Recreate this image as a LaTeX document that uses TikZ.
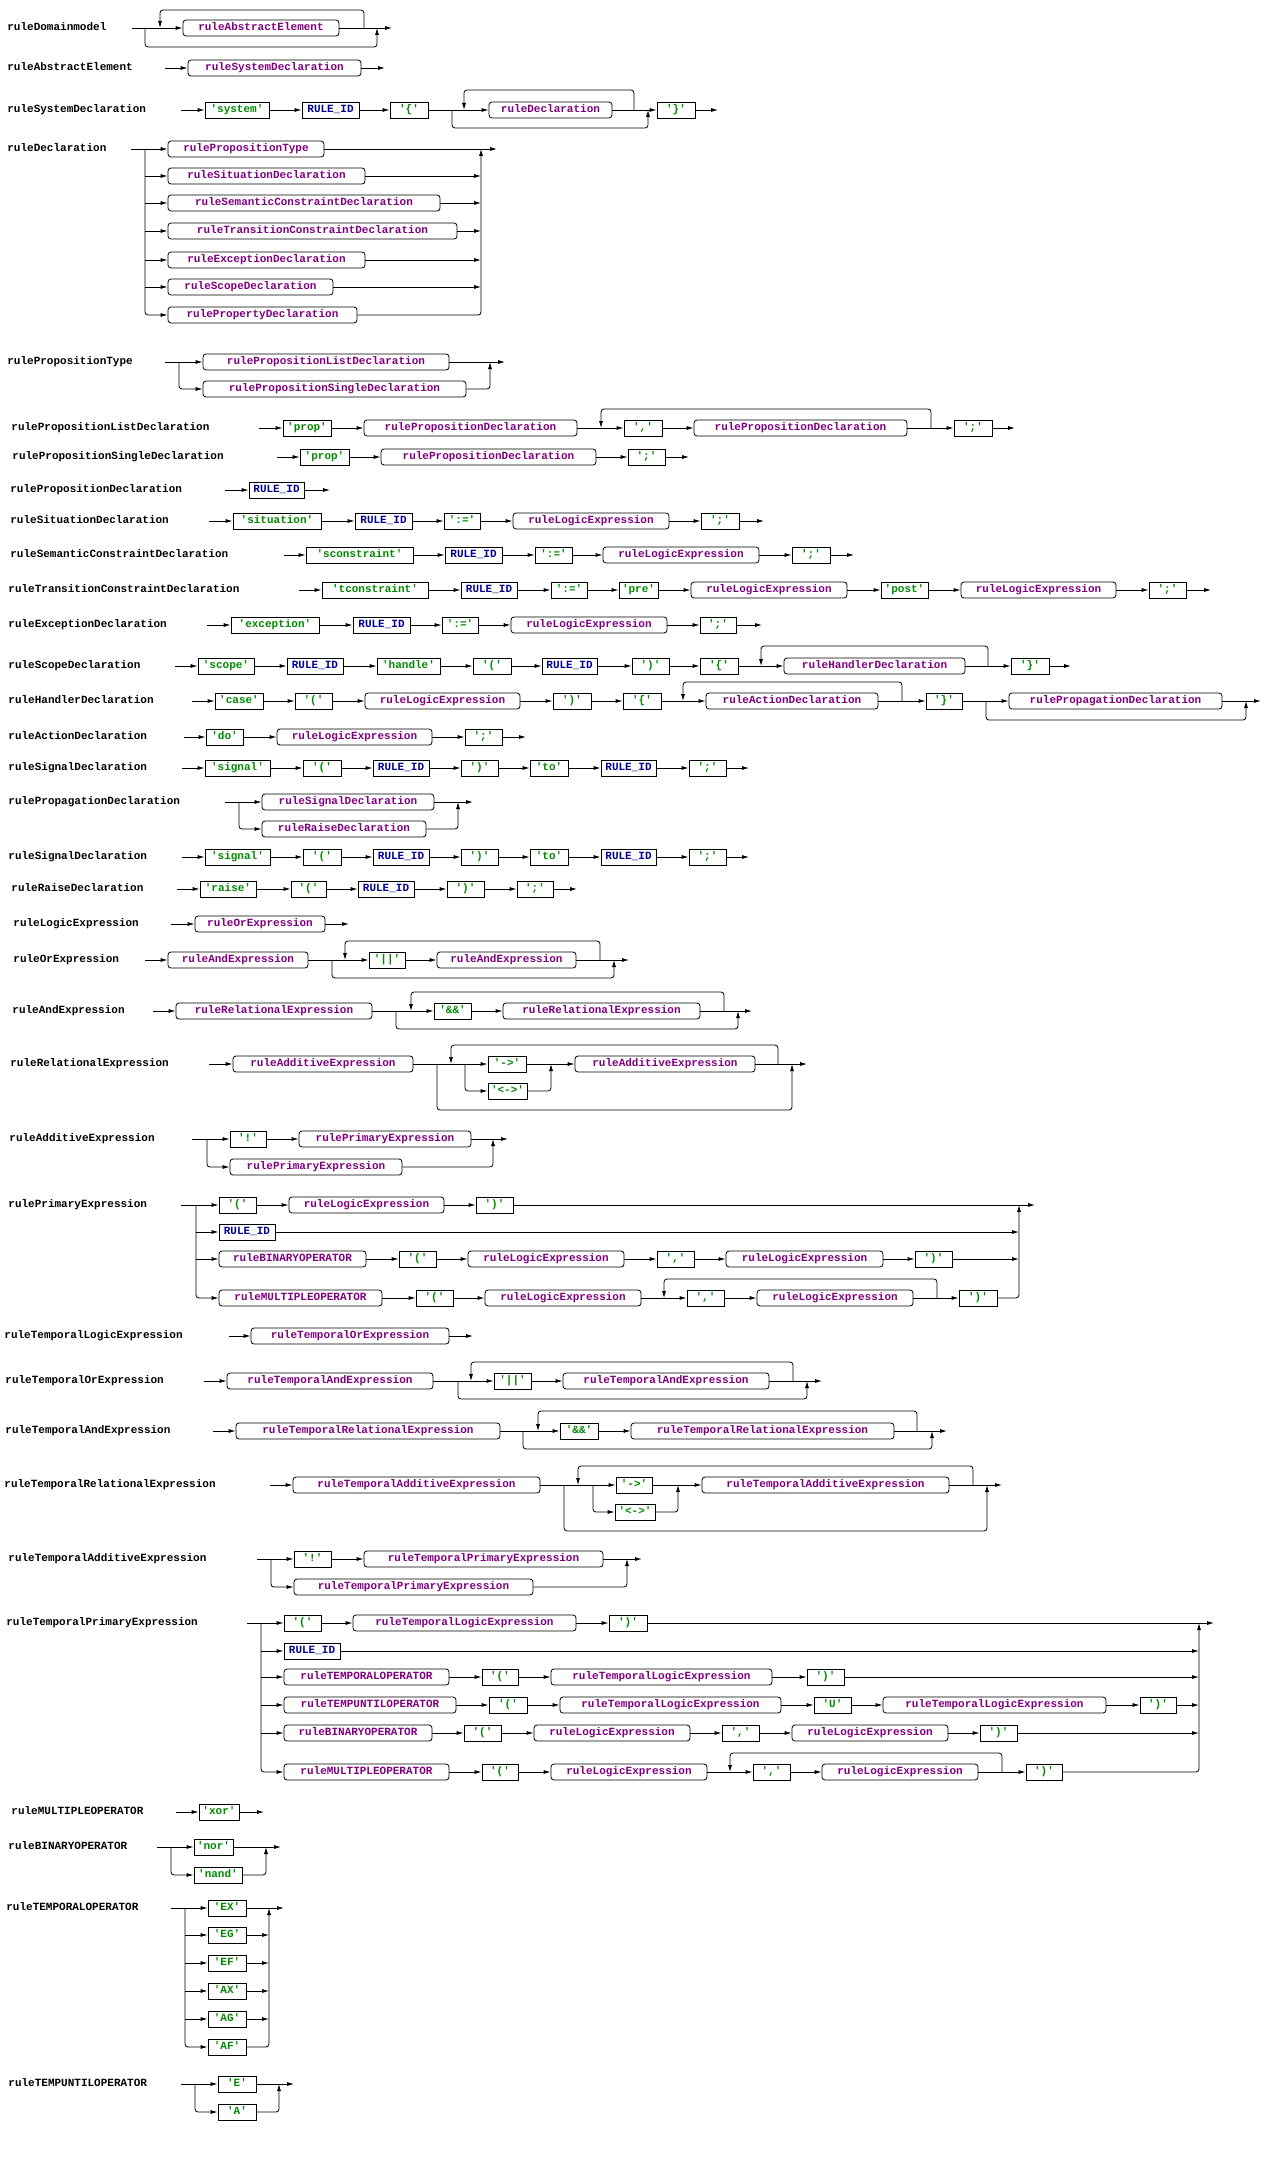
\documentclass[tikz,border=0pt]{standalone}
\usepackage{fontspec}
\setmonofont{Liberation Mono}
\usepackage{tikz}
\usetikzlibrary{arrows.meta}
\definecolor{NonTermPurple}{HTML}{800080}
\definecolor{TermGreen}{HTML}{008A00}
\definecolor{TokenBlue}{HTML}{000090}
\tikzset{
  every node/.style={font=\ttfamily\bfseries\fontsize{11}{13}\selectfont,
    text height=7pt, text depth=2pt, inner sep=0pt},
  nonterm/.style={draw, rounded corners=3pt, minimum height=16pt, text=NonTermPurple},
  term/.style={draw, minimum height=16pt, text=TermGreen},
  token/.style={draw, minimum height=16pt, text=TokenBlue},
  rulelabel/.style={anchor=west},
  flow/.style={-{Latex[length=7pt,width=4pt]}},
  track/.style={rounded corners=3pt},
}
% box from left edge #3 to right edge #4 on line #5
\newcommand{\railbox}[6]{\node[#1, minimum width={#4-#3}] (#2) at ({(#3+#4)/2},#5) {#6};}

\begin{document}
\begin{tikzpicture}[x=1pt,y=-1pt,line width=0.8pt]
\useasboundingbox (0,0) rectangle (1279,2178);

% ruleDomainmodel
\node[rulelabel] (dm) at (7,28) {ruleDomainmodel};
\railbox{nonterm}{dm1}{183}{339}{28}{ruleAbstractElement}
\coordinate (dm-in) at (132,28);
\coordinate (dm-out) at (392,28);
\coordinate (dm-skip) at (145,28);
\coordinate (dm-back) at (160,28);
\coordinate (dm-loop) at (364,28);
\coordinate (dm-join) at (377,28);
\draw[flow] (dm-in) -- (dm1.west);
\draw[flow] (dm1.east) -- (dm-out);
\draw[flow,track] (dm-loop) |- (160,10) -- (dm-back);
\draw[flow,track] (dm-skip) |- (377,47) -- (dm-join);

% ruleAbstractElement
\node[rulelabel] (ae) at (7,68) {ruleAbstractElement};
\railbox{nonterm}{ae1}{188}{361}{68}{ruleSystemDeclaration}
\coordinate (ae-in) at (165,68);
\coordinate (ae-out) at (385,68);
\draw[flow] (ae-in) -- (ae1.west);
\draw[flow] (ae1.east) -- (ae-out);

% ruleSystemDeclaration
\node[rulelabel] (sd) at (7,110) {ruleSystemDeclaration};
\railbox{term}{sd1}{205}{269}{110}{'system'}
\railbox{token}{sd2}{302}{359}{110}{RULE\_ID}
\railbox{term}{sd3}{390}{428}{110}{'\{'}
\railbox{nonterm}{sd4}{489}{612}{110}{ruleDeclaration}
\railbox{term}{sd5}{657}{695}{110}{'\}'}
\coordinate (sd-in) at (181,110);
\coordinate (sd-out) at (718,110);
\coordinate (sd-skip) at (452,110);
\coordinate (sd-back) at (464,110);
\coordinate (sd-loop) at (634,110);
\coordinate (sd-join) at (648,110);
\draw[flow] (sd-in) -- (sd1.west);
\foreach \a/\b in {1/2,2/3,3/4,4/5}
  \draw[flow] (sd\a.east) -- (sd\b.west);
\draw[flow] (sd5.east) -- (sd-out);
\draw[flow,track] (sd-loop) |- (464,90) -- (sd-back);
\draw[flow,track] (sd-skip) |- (648,128) -- (sd-join);

% ruleDeclaration
\node[rulelabel] (de) at (7,149) {ruleDeclaration};
\foreach \t/\r/\y/\i in {
  rulePropositionType/324/149/1,
  ruleSituationDeclaration/365/176/2,
  ruleSemanticConstraintDeclaration/440/203/3,
  ruleTransitionConstraintDeclaration/457/231/4,
  ruleExceptionDeclaration/365/260/5,
  ruleScopeDeclaration/333/287/6,
  rulePropertyDeclaration/357/315/7%
  }{
  \railbox{nonterm}{de\i}{168}{\r}{\y}{\t}
  }
\coordinate (de-in) at (131,149);
\coordinate (de-split) at (145,149);
\coordinate (de-merge) at (481,149);
\coordinate (de-out) at (497,149);
\draw[flow] (de-in) -- (de1.west);
\draw[flow] (de1.east) -- (de-out);
\foreach \i in {2,...,6}{
  \draw[flow] (de-split |- de\i.west) -- (de\i.west);
  \draw[flow] (de\i.east) -- (de-merge |- de\i.east);
  }
\draw[flow,track] (de-split) |- (de7.west);
\draw[flow,track] (de7.east) -| (de-merge);

% rulePropositionType
\node[rulelabel] (pt) at (7,362) {rulePropositionType};
\railbox{nonterm}{pt1}{203}{449}{362}{rulePropositionListDeclaration}
\railbox{nonterm}{pt2}{203}{466}{389}{rulePropositionSingleDeclaration}
\coordinate (pt-in) at (165,362);
\coordinate (pt-split) at (179,362);
\coordinate (pt-merge) at (490,362);
\coordinate (pt-out) at (505,362);
\draw[flow] (pt-in) -- (pt1.west);
\draw[flow] (pt1.east) -- (pt-out);
\draw[flow,track] (pt-split) |- (pt2.west);
\draw[flow,track] (pt2.east) -| (pt-merge);

% rulePropositionListDeclaration
\node[rulelabel] (pl) at (11,428) {rulePropositionListDeclaration};
\railbox{term}{pl1}{283}{331}{428}{'prop'}
\railbox{nonterm}{pl2}{364}{577}{428}{rulePropositionDeclaration}
\railbox{term}{pl3}{624}{662}{428}{','}
\railbox{nonterm}{pl4}{694}{907}{428}{rulePropositionDeclaration}
\railbox{term}{pl5}{954}{992}{428}{';'}
\coordinate (pl-in) at (259,428);
\coordinate (pl-out) at (1015,428);
\coordinate (pl-back) at (601,428);
\coordinate (pl-loop) at (931,428);
\draw[flow] (pl-in) -- (pl1.west);
\foreach \a/\b in {1/2,2/3,3/4,4/5}
  \draw[flow] (pl\a.east) -- (pl\b.west);
\draw[flow] (pl5.east) -- (pl-out);
\draw[flow,track] (pl-loop) |- (601,409) -- (pl-back);

% rulePropositionSingleDeclaration
\node[rulelabel] (ps) at (12,457) {rulePropositionSingleDeclaration};
\railbox{term}{ps1}{300}{349}{457}{'prop'}
\railbox{nonterm}{ps2}{381}{596}{457}{rulePropositionDeclaration}
\railbox{term}{ps3}{628}{665}{457}{';'}
\coordinate (ps-in) at (277,457);
\coordinate (ps-out) at (689,457);
\draw[flow] (ps-in) -- (ps1.west);
\draw[flow] (ps1.east) -- (ps2.west);
\draw[flow] (ps2.east) -- (ps3.west);
\draw[flow] (ps3.east) -- (ps-out);

% rulePropositionDeclaration
\node[rulelabel] (pd) at (10,490) {rulePropositionDeclaration};
\railbox{token}{pd1}{249}{304}{490}{RULE\_ID}
\coordinate (pd-in) at (225,490);
\coordinate (pd-out) at (330,490);
\draw[flow] (pd-in) -- (pd1.west);
\draw[flow] (pd1.east) -- (pd-out);

% ruleSituationDeclaration
\node[rulelabel] (si) at (10,521) {ruleSituationDeclaration};
\railbox{term}{si1}{233}{321}{521}{'situation'}
\railbox{token}{si2}{355}{412}{521}{RULE\_ID}
\railbox{term}{si3}{444}{480}{521}{':='}
\railbox{nonterm}{si4}{513}{669}{521}{ruleLogicExpression}
\railbox{term}{si5}{701}{739}{521}{';'}
\coordinate (si-in) at (209,521);
\coordinate (si-out) at (764,521);
\draw[flow] (si-in) -- (si1.west);
\foreach \a/\b in {1/2,2/3,3/4,4/5}
  \draw[flow] (si\a.east) -- (si\b.west);
\draw[flow] (si5.east) -- (si-out);

% ruleSemanticConstraintDeclaration
\node[rulelabel] (se) at (10,555) {ruleSemanticConstraintDeclaration};
\railbox{term}{se1}{306}{413}{555}{'sconstraint'}
\railbox{token}{se2}{445}{502}{555}{RULE\_ID}
\railbox{term}{se3}{535}{572}{555}{':='}
\railbox{nonterm}{se4}{603}{759}{555}{ruleLogicExpression}
\railbox{term}{se5}{792}{830}{555}{';'}
\coordinate (se-in) at (284,555);
\coordinate (se-out) at (854,555);
\draw[flow] (se-in) -- (se1.west);
\foreach \a/\b in {1/2,2/3,3/4,4/5}
  \draw[flow] (se\a.east) -- (se\b.west);
\draw[flow] (se5.east) -- (se-out);

% ruleTransitionConstraintDeclaration
\node[rulelabel] (tc) at (8,590) {ruleTransitionConstraintDeclaration};
\railbox{term}{tc1}{322}{428}{590}{'tconstraint'}
\railbox{token}{tc2}{461}{517}{590}{RULE\_ID}
\railbox{term}{tc3}{551}{587}{590}{':='}
\railbox{term}{tc4}{619}{658}{590}{'pre'}
\railbox{nonterm}{tc5}{691}{847}{590}{ruleLogicExpression}
\railbox{term}{tc6}{881}{928}{590}{'post'}
\railbox{nonterm}{tc7}{961}{1116}{590}{ruleLogicExpression}
\railbox{term}{tc8}{1149}{1186}{590}{';'}
\coordinate (tc-in) at (299,590);
\coordinate (tc-out) at (1211,590);
\draw[flow] (tc-in) -- (tc1.west);
\foreach \a/\b in {1/2,2/3,3/4,4/5,5/6,6/7,7/8}
  \draw[flow] (tc\a.east) -- (tc\b.west);
\draw[flow] (tc8.east) -- (tc-out);

% ruleExceptionDeclaration
\node[rulelabel] (ex) at (8,625) {ruleExceptionDeclaration};
\railbox{term}{ex1}{231}{319}{625}{'exception'}
\railbox{token}{ex2}{353}{410}{625}{RULE\_ID}
\railbox{term}{ex3}{442}{478}{625}{':='}
\railbox{nonterm}{ex4}{511}{667}{625}{ruleLogicExpression}
\railbox{term}{ex5}{700}{736}{625}{';'}
\coordinate (ex-in) at (207,625);
\coordinate (ex-out) at (762,625);
\draw[flow] (ex-in) -- (ex1.west);
\foreach \a/\b in {1/2,2/3,3/4,4/5}
  \draw[flow] (ex\a.east) -- (ex\b.west);
\draw[flow] (ex5.east) -- (ex-out);

% ruleScopeDeclaration
\node[rulelabel] (sc) at (8,666) {ruleScopeDeclaration};
\railbox{term}{sc1}{198}{254}{666}{'scope'}
\railbox{token}{sc2}{287}{343}{666}{RULE\_ID}
\railbox{term}{sc3}{377}{440}{666}{'handle'}
\railbox{term}{sc4}{473}{511}{666}{'('}
\railbox{token}{sc5}{542}{597}{666}{RULE\_ID}
\railbox{term}{sc6}{632}{669}{666}{')'}
\railbox{term}{sc7}{700}{738}{666}{'\{'}
\railbox{nonterm}{sc8}{784}{965}{666}{ruleHandlerDeclaration}
\railbox{term}{sc9}{1011}{1049}{666}{'\}'}
\coordinate (sc-in) at (175,666);
\coordinate (sc-out) at (1071,666);
\coordinate (sc-back) at (761,666);
\coordinate (sc-loop) at (988,666);
\draw[flow] (sc-in) -- (sc1.west);
\foreach \a/\b in {1/2,2/3,3/4,4/5,5/6,6/7,7/8,8/9}
  \draw[flow] (sc\a.east) -- (sc\b.west);
\draw[flow] (sc9.east) -- (sc-out);
\draw[flow,track] (sc-loop) |- (761,646) -- (sc-back);

% ruleHandlerDeclaration
\node[rulelabel] (hd) at (8,701) {ruleHandlerDeclaration};
\railbox{term}{hd1}{215}{263}{701}{'case'}
\railbox{term}{hd2}{295}{332}{701}{'('}
\railbox{nonterm}{hd3}{365}{520}{701}{ruleLogicExpression}
\railbox{term}{hd4}{553}{591}{701}{')'}
\railbox{term}{hd5}{623}{661}{701}{'\{'}
\railbox{nonterm}{hd6}{706}{878}{701}{ruleActionDeclaration}
\railbox{term}{hd7}{926}{962}{701}{'\}'}
\railbox{nonterm}{hd8}{1009}{1222}{701}{rulePropagationDeclaration}
\coordinate (hd-in) at (192,701);
\coordinate (hd-out) at (1261,701);
\coordinate (hd-back) at (683,701);
\coordinate (hd-loop) at (902,701);
\coordinate (hd-skip) at (986,701);
\coordinate (hd-join) at (1246,701);
\draw[flow] (hd-in) -- (hd1.west);
\foreach \a/\b in {1/2,2/3,3/4,4/5,5/6,6/7,7/8}
  \draw[flow] (hd\a.east) -- (hd\b.west);
\draw[flow] (hd8.east) -- (hd-out);
\draw[flow,track] (hd-loop) |- (683,682) -- (hd-back);
\draw[flow,track] (hd-skip) |- (1246,720) -- (hd-join);

% ruleActionDeclaration
\node[rulelabel] (ac) at (8,737) {ruleActionDeclaration};
\railbox{term}{ac1}{206}{243}{737}{'do'}
\railbox{nonterm}{ac2}{277}{432}{737}{ruleLogicExpression}
\railbox{term}{ac3}{465}{502}{737}{';'}
\coordinate (ac-in) at (184,737);
\coordinate (ac-out) at (526,737);
\draw[flow] (ac-in) -- (ac1.west);
\draw[flow] (ac1.east) -- (ac2.west);
\draw[flow] (ac2.east) -- (ac3.west);
\draw[flow] (ac3.east) -- (ac-out);

% ruleSignalDeclaration (twice)
\foreach \y/\n in {768/sga,857/sgb}{
  \node[rulelabel] (\n) at (8,\y) {ruleSignalDeclaration};
  \railbox{term}{\n1}{205}{270}{\y}{'signal'}
  \railbox{term}{\n2}{303}{341}{\y}{'('}
  \railbox{token}{\n3}{373}{429}{\y}{RULE\_ID}
  \railbox{term}{\n4}{461}{498}{\y}{')'}
  \railbox{term}{\n5}{530}{568}{\y}{'to'}
  \railbox{token}{\n6}{601}{656}{\y}{RULE\_ID}
  \railbox{term}{\n7}{689}{726}{\y}{';'}
  \coordinate (\n-in) at (182,\y);
  \coordinate (\n-out) at (749,\y);
  \draw[flow] (\n-in) -- (\n1.west);
  \foreach \a/\b in {1/2,2/3,3/4,4/5,5/6,6/7}
    \draw[flow] (\n\a.east) -- (\n\b.west);
  \draw[flow] (\n7.east) -- (\n-out);
  }

% rulePropagationDeclaration
\node[rulelabel] (pg) at (8,802) {rulePropagationDeclaration};
\railbox{nonterm}{pg1}{262}{434}{802}{ruleSignalDeclaration}
\railbox{nonterm}{pg2}{262}{426}{829}{ruleRaiseDeclaration}
\coordinate (pg-in) at (225,802);
\coordinate (pg-split) at (239,802);
\coordinate (pg-merge) at (458,802);
\coordinate (pg-out) at (473,802);
\draw[flow] (pg-in) -- (pg1.west);
\draw[flow] (pg1.east) -- (pg-out);
\draw[flow,track] (pg-split) |- (pg2.west);
\draw[flow,track] (pg2.east) -| (pg-merge);

% ruleRaiseDeclaration
\node[rulelabel] (ra) at (11,889) {ruleRaiseDeclaration};
\railbox{term}{ra1}{200}{256}{889}{'raise'}
\railbox{term}{ra2}{291}{326}{889}{'('}
\railbox{token}{ra3}{358}{414}{889}{RULE\_ID}
\railbox{term}{ra4}{447}{484}{889}{')'}
\railbox{term}{ra5}{517}{553}{889}{';'}
\coordinate (ra-in) at (177,889);
\coordinate (ra-out) at (577,889);
\draw[flow] (ra-in) -- (ra1.west);
\foreach \a/\b in {1/2,2/3,3/4,4/5}
  \draw[flow] (ra\a.east) -- (ra\b.west);
\draw[flow] (ra5.east) -- (ra-out);

% ruleLogicExpression
\node[rulelabel] (le) at (13,924) {ruleLogicExpression};
\railbox{nonterm}{le1}{195}{325}{924}{ruleOrExpression}
\coordinate (le-in) at (171,924);
\coordinate (le-out) at (349,924);
\draw[flow] (le-in) -- (le1.west);
\draw[flow] (le1.east) -- (le-out);

% ruleOrExpression
\node[rulelabel] (oe) at (13,960) {ruleOrExpression};
\railbox{nonterm}{oe1}{168}{308}{960}{ruleAndExpression}
\railbox{term}{oe2}{369}{405}{960}{'||'}
\railbox{nonterm}{oe3}{437}{576}{960}{ruleAndExpression}
\coordinate (oe-in) at (145,960);
\coordinate (oe-out) at (629,960);
\coordinate (oe-skip) at (332,960);
\coordinate (oe-back) at (345,960);
\coordinate (oe-loop) at (600,960);
\coordinate (oe-join) at (614,960);
\draw[flow] (oe-in) -- (oe1.west);
\draw[flow] (oe1.east) -- (oe2.west);
\draw[flow] (oe2.east) -- (oe3.west);
\draw[flow] (oe3.east) -- (oe-out);
\draw[flow,track] (oe-loop) |- (345,941) -- (oe-back);
\draw[flow,track] (oe-skip) |- (614,978) -- (oe-join);

% ruleAndExpression
\node[rulelabel] (an) at (12,1011) {ruleAndExpression};
\railbox{nonterm}{an1}{176}{372}{1011}{ruleRelationalExpression}
\railbox{term}{an2}{434}{471}{1011}{'\&\&'}
\railbox{nonterm}{an3}{503}{700}{1011}{ruleRelationalExpression}
\coordinate (an-in) at (153,1011);
\coordinate (an-out) at (752,1011);
\coordinate (an-skip) at (396,1011);
\coordinate (an-back) at (411,1011);
\coordinate (an-loop) at (724,1011);
\coordinate (an-join) at (738,1011);
\draw[flow] (an-in) -- (an1.west);
\draw[flow] (an1.east) -- (an2.west);
\draw[flow] (an2.east) -- (an3.west);
\draw[flow] (an3.east) -- (an-out);
\draw[flow,track] (an-loop) |- (411,992) -- (an-back);
\draw[flow,track] (an-skip) |- (738,1029) -- (an-join);

% ruleRelationalExpression
\node[rulelabel] (re) at (10,1064) {ruleRelationalExpression};
\railbox{nonterm}{re1}{233}{413}{1064}{ruleAdditiveExpression}
\railbox{term}{re2}{488}{526}{1064}{'->'}
\railbox{term}{re3}{488}{527}{1091}{'<->'}
\railbox{nonterm}{re4}{575}{755}{1064}{ruleAdditiveExpression}
\coordinate (re-in) at (209,1064);
\coordinate (re-out) at (807,1064);
\coordinate (re-skip) at (437,1064);
\coordinate (re-back) at (451,1064);
\coordinate (re-split) at (465,1064);
\coordinate (re-merge) at (551,1064);
\coordinate (re-loop) at (778,1064);
\coordinate (re-join) at (792,1064);
\draw[flow] (re-in) -- (re1.west);
\draw[flow] (re1.east) -- (re2.west);
\draw[flow,track] (re-split) |- (re3.west);
\draw[flow] (re2.east) -- (re4.west);
\draw[flow,track] (re3.east) -| (re-merge);
\draw[flow] (re4.east) -- (re-out);
\draw[flow,track] (re-loop) |- (451,1045) -- (re-back);
\draw[flow,track] (re-skip) |- (792,1110) -- (re-join);

% ruleAdditiveExpression
\node[rulelabel] (ad) at (9,1139) {ruleAdditiveExpression};
\railbox{term}{ad1}{230}{266}{1139}{'!'}
\railbox{nonterm}{ad2}{299}{471}{1139}{rulePrimaryExpression}
\railbox{nonterm}{ad3}{230}{402}{1167}{rulePrimaryExpression}
\coordinate (ad-in) at (192,1139);
\coordinate (ad-split) at (207,1139);
\coordinate (ad-merge) at (493,1139);
\coordinate (ad-out) at (508,1139);
\draw[flow] (ad-in) -- (ad1.west);
\draw[flow] (ad1.east) -- (ad2.west);
\draw[flow] (ad2.east) -- (ad-out);
\draw[flow,track] (ad-split) |- (ad3.west);
\draw[flow,track] (ad3.east) -| (ad-merge);

% rulePrimaryExpression
\node[rulelabel] (pr) at (8,1205) {rulePrimaryExpression};
\railbox{term}{pr1}{219}{256}{1205}{'('}
\railbox{nonterm}{pr2}{289}{444}{1205}{ruleLogicExpression}
\railbox{term}{pr3}{476}{513}{1205}{')'}
\railbox{token}{pr4}{219}{275}{1232}{RULE\_ID}
\railbox{nonterm}{pr5}{219}{366}{1259}{ruleBINARYOPERATOR}
\railbox{term}{pr6}{399}{436}{1259}{'('}
\railbox{nonterm}{pr7}{468}{624}{1259}{ruleLogicExpression}
\railbox{term}{pr8}{657}{694}{1259}{','}
\railbox{nonterm}{pr9}{726}{883}{1259}{ruleLogicExpression}
\railbox{term}{pr10}{915}{952}{1259}{')'}
\railbox{nonterm}{pr11}{219}{382}{1298}{ruleMULTIPLEOPERATOR}
\railbox{term}{pr12}{416}{453}{1298}{'('}
\railbox{nonterm}{pr13}{485}{641}{1298}{ruleLogicExpression}
\railbox{term}{pr14}{687}{724}{1298}{','}
\railbox{nonterm}{pr15}{757}{913}{1298}{ruleLogicExpression}
\railbox{term}{pr16}{959}{997}{1298}{')'}
\coordinate (pr-in) at (181,1205);
\coordinate (pr-split) at (196,1205);
\coordinate (pr-merge) at (1019,1205);
\coordinate (pr-out) at (1035,1205);
\coordinate (pr-back) at (664,1298);
\coordinate (pr-loop) at (937,1298);
\draw[flow] (pr-in) -- (pr1.west);
\draw[flow] (pr3.east) -- (pr-out);
\foreach \i in {4,5}
  \draw[flow] (pr-split |- pr\i.west) -- (pr\i.west);
\draw[flow,track] (pr-split) |- (pr11.west);
\foreach \a/\b in {1/2,2/3,5/6,6/7,7/8,8/9,9/10,11/12,12/13,13/14,14/15,15/16}
  \draw[flow] (pr\a.east) -- (pr\b.west);
\foreach \i in {4,10}
  \draw[flow] (pr\i.east) -- (pr-merge |- pr\i.east);
\draw[flow,track] (pr16.east) -| (pr-merge);
\draw[flow,track] (pr-loop) |- (664,1279) -- (pr-back);

% ruleTemporalLogicExpression
\node[rulelabel] (tl) at (4,1336) {ruleTemporalLogicExpression};
\railbox{nonterm}{tl1}{251}{449}{1336}{ruleTemporalOrExpression}
\coordinate (tl-in) at (229,1336);
\coordinate (tl-out) at (473,1336);
\draw[flow] (tl-in) -- (tl1.west);
\draw[flow] (tl1.east) -- (tl-out);

% ruleTemporalOrExpression
\node[rulelabel] (to) at (5,1381) {ruleTemporalOrExpression};
\railbox{nonterm}{to1}{227}{433}{1381}{ruleTemporalAndExpression}
\railbox{term}{to2}{494}{531}{1381}{'||'}
\railbox{nonterm}{to3}{563}{769}{1381}{ruleTemporalAndExpression}
\coordinate (to-in) at (204,1381);
\coordinate (to-out) at (822,1381);
\coordinate (to-skip) at (458,1381);
\coordinate (to-back) at (471,1381);
\coordinate (to-loop) at (793,1381);
\coordinate (to-join) at (807,1381);
\draw[flow] (to-in) -- (to1.west);
\draw[flow] (to1.east) -- (to2.west);
\draw[flow] (to2.east) -- (to3.west);
\draw[flow] (to3.east) -- (to-out);
\draw[flow,track] (to-loop) |- (471,1362) -- (to-back);
\draw[flow,track] (to-skip) |- (807,1399) -- (to-join);

% ruleTemporalAndExpression
\node[rulelabel] (ta) at (5,1431) {ruleTemporalAndExpression};
\railbox{nonterm}{ta1}{236}{500}{1431}{ruleTemporalRelationalExpression}
\railbox{term}{ta2}{560}{598}{1431}{'\&\&'}
\railbox{nonterm}{ta3}{631}{894}{1431}{ruleTemporalRelationalExpression}
\coordinate (ta-in) at (213,1431);
\coordinate (ta-out) at (947,1431);
\coordinate (ta-skip) at (523,1431);
\coordinate (ta-back) at (538,1431);
\coordinate (ta-loop) at (917,1431);
\coordinate (ta-join) at (932,1431);
\draw[flow] (ta-in) -- (ta1.west);
\draw[flow] (ta1.east) -- (ta2.west);
\draw[flow] (ta2.east) -- (ta3.west);
\draw[flow] (ta3.east) -- (ta-out);
\draw[flow,track] (ta-loop) |- (538,1411) -- (ta-back);
\draw[flow,track] (ta-skip) |- (932,1449) -- (ta-join);

% ruleTemporalRelationalExpression
\node[rulelabel] (tr) at (4,1485) {ruleTemporalRelationalExpression};
\railbox{nonterm}{tr1}{293}{540}{1485}{ruleTemporalAdditiveExpression}
\railbox{term}{tr2}{616}{652}{1485}{'->'}
\railbox{term}{tr3}{615}{655}{1512}{'<->'}
\railbox{nonterm}{tr4}{702}{949}{1485}{ruleTemporalAdditiveExpression}
\coordinate (tr-in) at (270,1485);
\coordinate (tr-out) at (1002,1485);
\coordinate (tr-skip) at (564,1485);
\coordinate (tr-back) at (578,1485);
\coordinate (tr-split) at (593,1485);
\coordinate (tr-merge) at (678,1485);
\coordinate (tr-loop) at (973,1485);
\coordinate (tr-join) at (987,1485);
\draw[flow] (tr-in) -- (tr1.west);
\draw[flow] (tr1.east) -- (tr2.west);
\draw[flow,track] (tr-split) |- (tr3.west);
\draw[flow] (tr2.east) -- (tr4.west);
\draw[flow,track] (tr3.east) -| (tr-merge);
\draw[flow] (tr4.east) -- (tr-out);
\draw[flow,track] (tr-loop) |- (578,1466) -- (tr-back);
\draw[flow,track] (tr-skip) |- (987,1531) -- (tr-join);

% ruleTemporalAdditiveExpression
\node[rulelabel] (td) at (8,1559) {ruleTemporalAdditiveExpression};
\railbox{term}{td1}{294}{331}{1559}{'!'}
\railbox{nonterm}{td2}{364}{603}{1559}{ruleTemporalPrimaryExpression}
\railbox{nonterm}{td3}{294}{533}{1587}{ruleTemporalPrimaryExpression}
\coordinate (td-in) at (257,1559);
\coordinate (td-split) at (271,1559);
\coordinate (td-merge) at (627,1559);
\coordinate (td-out) at (642,1559);
\draw[flow] (td-in) -- (td1.west);
\draw[flow] (td1.east) -- (td2.west);
\draw[flow] (td2.east) -- (td-out);
\draw[flow,track] (td-split) |- (td3.west);
\draw[flow,track] (td3.east) -| (td-merge);

% ruleTemporalPrimaryExpression
\node[rulelabel] (tp) at (6,1623) {ruleTemporalPrimaryExpression};
\railbox{term}{tp1}{284}{321}{1623}{'('}
\railbox{nonterm}{tp2}{353}{576}{1623}{ruleTemporalLogicExpression}
\railbox{term}{tp3}{609}{647}{1623}{')'}
\railbox{token}{tp4}{284}{340}{1651}{RULE\_ID}
\railbox{nonterm}{tp5}{284}{449}{1677}{ruleTEMPORALOPERATOR}
\railbox{term}{tp6}{482}{518}{1677}{'('}
\railbox{nonterm}{tp7}{551}{772}{1677}{ruleTemporalLogicExpression}
\railbox{term}{tp8}{807}{844}{1677}{')'}
\railbox{nonterm}{tp9}{284}{456}{1705}{ruleTEMPUNTILOPERATOR}
\railbox{term}{tp10}{489}{527}{1705}{'('}
\railbox{nonterm}{tp11}{560}{781}{1705}{ruleTemporalLogicExpression}
\railbox{term}{tp12}{814}{851}{1705}{'U'}
\railbox{nonterm}{tp13}{883}{1106}{1705}{ruleTemporalLogicExpression}
\railbox{term}{tp14}{1140}{1176}{1705}{')'}
\railbox{nonterm}{tp15}{284}{432}{1733}{ruleBINARYOPERATOR}
\railbox{term}{tp16}{464}{501}{1733}{'('}
\railbox{nonterm}{tp17}{534}{690}{1733}{ruleLogicExpression}
\railbox{term}{tp18}{722}{759}{1733}{','}
\railbox{nonterm}{tp19}{792}{948}{1733}{ruleLogicExpression}
\railbox{term}{tp20}{980}{1017}{1733}{')'}
\railbox{nonterm}{tp21}{284}{449}{1772}{ruleMULTIPLEOPERATOR}
\railbox{term}{tp22}{482}{518}{1772}{'('}
\railbox{nonterm}{tp23}{551}{707}{1772}{ruleLogicExpression}
\railbox{term}{tp24}{753}{790}{1772}{','}
\railbox{nonterm}{tp25}{822}{978}{1772}{ruleLogicExpression}
\railbox{term}{tp26}{1026}{1062}{1772}{')'}
\coordinate (tp-in) at (247,1623);
\coordinate (tp-split) at (261,1623);
\coordinate (tp-merge) at (1199,1623);
\coordinate (tp-out) at (1214,1623);
\coordinate (tp-back) at (730,1772);
\coordinate (tp-loop) at (1002,1772);
\draw[flow] (tp-in) -- (tp1.west);
\draw[flow] (tp3.east) -- (tp-out);
\foreach \i in {4,5,9,15}
  \draw[flow] (tp-split |- tp\i.west) -- (tp\i.west);
\draw[flow,track] (tp-split) |- (tp21.west);
\foreach \a/\b in {1/2,2/3,5/6,6/7,7/8,9/10,10/11,11/12,12/13,13/14,
                   15/16,16/17,17/18,18/19,19/20,21/22,22/23,23/24,24/25,25/26}
  \draw[flow] (tp\a.east) -- (tp\b.west);
\foreach \i in {4,8,14,20}
  \draw[flow] (tp\i.east) -- (tp-merge |- tp\i.east);
\draw[flow,track] (tp26.east) -| (tp-merge);
\draw[flow,track] (tp-loop) |- (730,1753) -- (tp-back);

% ruleMULTIPLEOPERATOR
\node[rulelabel] (mo) at (11,1812) {ruleMULTIPLEOPERATOR};
\railbox{term}{mo1}{199}{239}{1812}{'xor'}
\coordinate (mo-in) at (176,1812);
\coordinate (mo-out) at (264,1812);
\draw[flow] (mo-in) -- (mo1.west);
\draw[flow] (mo1.east) -- (mo-out);

% ruleBINARYOPERATOR
\node[rulelabel] (bo) at (8,1847) {ruleBINARYOPERATOR};
\railbox{term}{bo1}{194}{233}{1847}{'nor'}
\railbox{term}{bo2}{194}{242}{1875}{'nand'}
\coordinate (bo-in) at (157,1847);
\coordinate (bo-split) at (171,1847);
\coordinate (bo-merge) at (266,1847);
\coordinate (bo-out) at (281,1847);
\draw[flow] (bo-in) -- (bo1.west);
\draw[flow] (bo1.east) -- (bo-out);
\draw[flow,track] (bo-split) |- (bo2.west);
\draw[flow,track] (bo2.east) -| (bo-merge);

% ruleTEMPORALOPERATOR
\node[rulelabel] (te) at (6,1908) {ruleTEMPORALOPERATOR};
\foreach \t/\y/\i in {EX/1908/1, EG/1935/2, EF/1963/3, AX/1991/4, AG/2019/5, AF/2047/6}
  \railbox{term}{te\i}{208}{246}{\y}{'\t'}
\coordinate (te-in) at (171,1908);
\coordinate (te-split) at (185,1908);
\coordinate (te-merge) at (269,1908);
\coordinate (te-out) at (284,1908);
\draw[flow] (te-in) -- (te1.west);
\draw[flow] (te1.east) -- (te-out);
\foreach \i in {2,...,5}{
  \draw[flow] (te-split |- te\i.west) -- (te\i.west);
  \draw[flow] (te\i.east) -- (te-merge |- te\i.east);
  }
\draw[flow,track] (te-split) |- (te6.west);
\draw[flow,track] (te6.east) -| (te-merge);

% ruleTEMPUNTILOPERATOR
\node[rulelabel] (tu) at (8,2084) {ruleTEMPUNTILOPERATOR};
\railbox{term}{tu1}{218}{256}{2084}{'E'}
\railbox{term}{tu2}{218}{256}{2112}{'A'}
\coordinate (tu-in) at (181,2084);
\coordinate (tu-split) at (195,2084);
\coordinate (tu-merge) at (279,2084);
\coordinate (tu-out) at (294,2084);
\draw[flow] (tu-in) -- (tu1.west);
\draw[flow] (tu1.east) -- (tu-out);
\draw[flow,track] (tu-split) |- (tu2.west);
\draw[flow,track] (tu2.east) -| (tu-merge);
\end{tikzpicture}
\end{document}
